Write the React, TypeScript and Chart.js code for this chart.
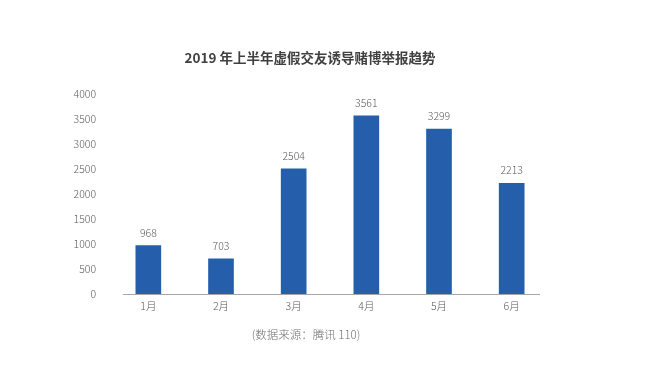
import React, { useEffect, useRef } from "react";
import { Chart, registerables } from "chart.js";

Chart.register(...registerables);

const TITLE = "2019 年上半年虚假交友诱导赌博举报趋势";
const SOURCE = "(数据来源：腾讯 110)";
const categories = ["1月", "2月", "3月", "4月", "5月", "6月"];
const reports = [968, 703, 2504, 3561, 3299, 2213];
const yMax = 4000;
const yStep = 500;

const FONT = "'Noto Sans CJK SC', 'Noto Sans', sans-serif";
const TEXT = "#595959";
const BAR = "#255EAA";

export default function App() {
  const ref = useRef<HTMLCanvasElement | null>(null);

  useEffect(() => {
    document.body.style.margin = "0";
    const canvas = ref.current;
    if (!canvas) return;

    const decor = {
      id: "decor",
      afterDatasetsDraw(chart: any) {
        const { ctx, chartArea } = chart;
        ctx.save();
        // axis line
        ctx.strokeStyle = "#A6A6A6";
        ctx.lineWidth = 1;
        ctx.beginPath();
        ctx.moveTo(chartArea.left + 11, chartArea.bottom + 0.5);
        ctx.lineTo(chartArea.right - 8, chartArea.bottom + 0.5);
        ctx.stroke();
        // value labels
        const meta = chart.getDatasetMeta(0);
        ctx.fillStyle = TEXT;
        ctx.font = `300 10.5px ${FONT}`;
        ctx.textAlign = "center";
        ctx.textBaseline = "middle";
        meta.data.forEach((bar: any, i: number) => {
          ctx.fillText(String(reports[i]), bar.x, bar.y - 13);
        });
        // title
        ctx.fillStyle = "#404040";
        ctx.font = `bold 13.5px ${FONT}`;
        ctx.fillText(TITLE, 310, 58);
        // source
        ctx.fillStyle = "#6F6F6F";
        ctx.font = `300 11.5px ${FONT}`;
        ctx.fillText(SOURCE, 306, 335);
        ctx.restore();
      },
    };

    const chart = new Chart(canvas, {
      type: "bar",
      data: {
        labels: categories,
        datasets: [
          {
            data: reports,
            backgroundColor: BAR,
            barThickness: 25,
          },
        ],
      },
      options: {
        animation: false,
        responsive: false,
        maintainAspectRatio: false,
        layout: { padding: { left: 60, right: 98, top: 94, bottom: 43 } },
        plugins: {
          legend: { display: false },
          tooltip: { enabled: false },
          title: { display: false },
        },
        scales: {
          x: {
            grid: { display: false },
            border: { display: false },
            ticks: { color: TEXT, font: { family: FONT, size: 10.5, weight: "300" }, padding: -2 },
            afterFit(scale: any) {
              scale.height = 30;
            },
          },
          y: {
            min: 0,
            max: yMax,
            grid: { display: false },
            border: { display: false },
            ticks: {
              stepSize: yStep,
              color: TEXT,
              font: { family: FONT, size: 10.5, weight: "300" },
              padding: 8,
              callback: (v: any) => String(v),
            },
            afterFit(scale: any) {
              scale.width = 52;
            },
          },
        },
      },
      plugins: [decor],
    });

    return () => chart.destroy();
  }, []);

  return (
    <div style={{ width: 646, height: 367 }}>
      <canvas ref={ref} width={646} height={367} style={{ display: "block" }} />
    </div>
  );
}
